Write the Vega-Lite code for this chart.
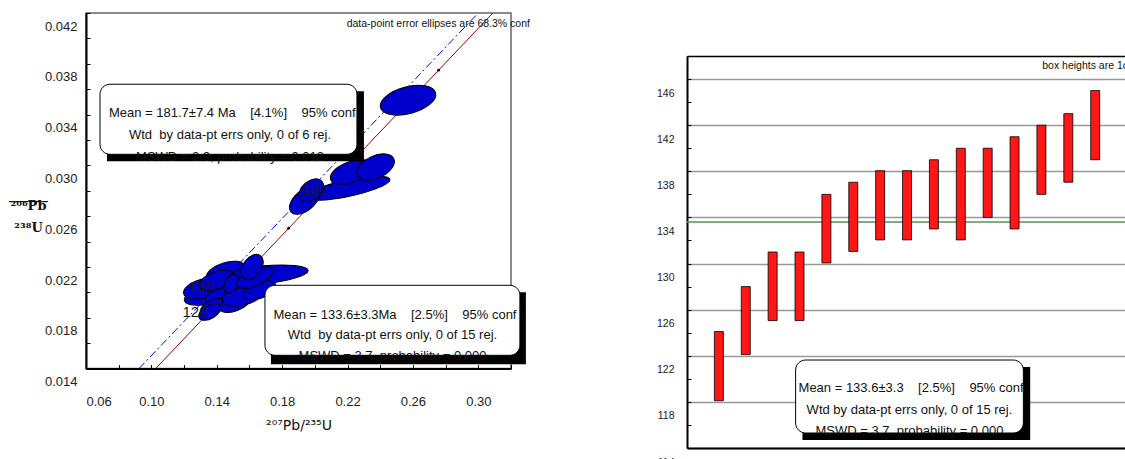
{
  "$schema": "https://vega.github.io/schema/vega-lite/v6.json",
  "background": "white",
  "padding": {"left": 7, "top": 10, "right": 0, "bottom": 0},
  "spacing": 125,
  "datasets": {
    "ellipses": [
      {"x": 0.2202, "y": 0.0282, "major": 0.0526, "ecc": "r20", "tilt": -12},
      {"x": 0.1938, "y": 0.02725, "major": 0.0220, "ecc": "r55", "tilt": -40},
      {"x": 0.1978, "y": 0.02804, "major": 0.0171, "ecc": "r68", "tilt": -40},
      {"x": 0.2223, "y": 0.02948, "major": 0.0269, "ecc": "r45", "tilt": -20},
      {"x": 0.2372, "y": 0.02987, "major": 0.0245, "ecc": "r55", "tilt": -25},
      {"x": 0.2570, "y": 0.03513, "major": 0.0349, "ecc": "r45", "tilt": -15},
      {"x": 0.1670, "y": 0.02135, "major": 0.0581, "ecc": "r20", "tilt": -6},
      {"x": 0.1438, "y": 0.02017, "major": 0.0489, "ecc": "r30", "tilt": -15},
      {"x": 0.1316, "y": 0.0203, "major": 0.0245, "ecc": "r45", "tilt": -15},
      {"x": 0.1454, "y": 0.0216, "major": 0.0245, "ecc": "r45", "tilt": -18},
      {"x": 0.1397, "y": 0.02095, "major": 0.0220, "ecc": "r45", "tilt": -20},
      {"x": 0.1418, "y": 0.01977, "major": 0.0183, "ecc": "r45", "tilt": -20},
      {"x": 0.1377, "y": 0.01885, "major": 0.0159, "ecc": "r55", "tilt": -25},
      {"x": 0.1357, "y": 0.01846, "major": 0.0147, "ecc": "r55", "tilt": -30},
      {"x": 0.1510, "y": 0.01912, "major": 0.0196, "ecc": "r45", "tilt": -20},
      {"x": 0.1560, "y": 0.01977, "major": 0.0257, "ecc": "r45", "tilt": -15},
      {"x": 0.1662, "y": 0.02017, "major": 0.0208, "ecc": "r45", "tilt": -20},
      {"x": 0.1540, "y": 0.02109, "major": 0.0183, "ecc": "r55", "tilt": -30},
      {"x": 0.1489, "y": 0.02069, "major": 0.0122, "ecc": "r68", "tilt": -60},
      {"x": 0.1632, "y": 0.02121, "major": 0.0232, "ecc": "r45", "tilt": -25},
      {"x": 0.1617, "y": 0.0220, "major": 0.0171, "ecc": "r68", "tilt": -55}
    ],
    "curves": [
      {"curve": "concordia", "x": 0.1026, "y": 0.014},
      {"curve": "concordia", "x": 0.3089, "y": 0.042},
      {"curve": "model", "x": 0.0924, "y": 0.014},
      {"curve": "model", "x": 0.2985, "y": 0.0418}
    ],
    "agemarks": [
      {"x": 0.184, "y": 0.02505},
      {"x": 0.2757, "y": 0.0375}
    ],
    "agelabels": [
      {"x": 0.1267, "y": 0.01843, "label": "120"},
      {"x": 0.1300, "y": 0.0204, "label": "130"},
      {"x": 0.1995, "y": 0.02804, "label": "180"}
    ],
    "boxesL": [
      {"kind": "shadow", "x": 0.07284, "x2": 0.23003, "y": 0.035838, "y2": 0.030323},
      {"kind": "box", "x": 0.06856, "x2": 0.22575, "y": 0.03639, "y2": 0.030874},
      {"kind": "shadow", "x": 0.17315, "x2": 0.32911, "y": 0.02001, "y2": 0.01434},
      {"kind": "box", "x": 0.16948, "x2": 0.32544, "y": 0.02056, "y2": 0.015047}
    ],
    "notesL": [
      {"x": 0.1495, "y": 0.0341, "label": "Mean = 181.7±7.4 Ma \u00a0 \u00a0[4.1%] \u00a0 \u00a095% conf"},
      {"x": 0.1481, "y": 0.03237, "label": "Wtd \u00a0by data-pt errs only, 0 of 6 rej."},
      {"x": 0.1481, "y": 0.03064, "label": "MSWD = 2.9, probability = 0.012"},
      {"x": 0.2490, "y": 0.0182, "label": "Mean = 133.6±3.3Ma \u00a0 \u00a0[2.5%] \u00a0 \u00a095% conf"},
      {"x": 0.2475, "y": 0.01663, "label": "Wtd \u00a0by data-pt errs only, 0 of 15 rej."},
      {"x": 0.2475, "y": 0.01497, "label": "MSWD = 3.7, probability = 0.000"}
    ],
    "captionL": [
      {"x": 0.3316, "y": 0.0411, "label": "data-point error ellipses are 68.3% conf"}
    ],
    "ages": [
      {"idx": 1, "lo": 118.1, "hi": 124.1},
      {"idx": 2, "lo": 122.1, "hi": 128.0},
      {"idx": 3, "lo": 125.05, "hi": 131.0},
      {"idx": 4, "lo": 125.05, "hi": 131.0},
      {"idx": 5, "lo": 130.05, "hi": 136.0},
      {"idx": 6, "lo": 131.05, "hi": 137.05},
      {"idx": 7, "lo": 132.05, "hi": 138.05},
      {"idx": 8, "lo": 132.05, "hi": 138.05},
      {"idx": 9, "lo": 133.0, "hi": 139.0},
      {"idx": 10, "lo": 132.05, "hi": 140.0},
      {"idx": 11, "lo": 134.0, "hi": 140.0},
      {"idx": 12, "lo": 133.0, "hi": 141.0},
      {"idx": 13, "lo": 136.0, "hi": 142.0},
      {"idx": 14, "lo": 137.05, "hi": 143.0},
      {"idx": 15, "lo": 139.0, "hi": 145.0}
    ],
    "meanR": [{"mean": 133.6}],
    "boxesR": [
      {"kind": "shadow", "x": 4.109, "x2": 12.582, "y": 121.03, "y2": 114.69},
      {"kind": "box", "x": 3.855, "x2": 12.327, "y": 121.63, "y2": 115.30}
    ],
    "notesR": [
      {"x": 8.15, "y": 119.2, "label": "Mean = 133.6±3.3 \u00a0 \u00a0[2.5%] \u00a0 \u00a095% conf"},
      {"x": 8.09, "y": 117.3, "label": "Wtd by data-pt errs only, 0 of 15 rej."},
      {"x": 8.09, "y": 115.47, "label": "MSWD = 3.7, probability = 0.000"}
    ],
    "captionR": [
      {"x": 13.03, "y": 147.13, "label": "box heights are 1σ"}
    ]
  },
  "hconcat": [
    {
      "width": 425,
      "height": 355.6,
      "view": {"stroke": "#666", "strokeWidth": 1.5},
      "encoding": {
        "x": {
          "field": "x",
          "type": "quantitative",
          "scale": {"domain": [0.06, 0.32], "nice": false, "zero": false},
          "axis": {
            "values": [0.06, 0.08, 0.1, 0.12, 0.14, 0.16, 0.18, 0.2, 0.22, 0.24, 0.26, 0.28, 0.3, 0.32],
            "labelExpr": "round(datum.value * 100) % 4 == 2 ? format(datum.value, '.2f') : ''",
            "grid": false,
            "domainColor": "black",
            "domainWidth": 2,
            "tickColor": "black",
            "tickSize": -4,
            "labelPadding": 31,
            "labelFontSize": 13,
            "labelColor": "#222",
            "title": "²⁰⁷Pb/²³⁵U",
            "titleFont": "DejaVu Sans",
            "titleFontSize": 14,
            "titleFontWeight": "normal",
            "titleColor": "#111",
            "titlePadding": 10
          }
        },
        "y": {
          "field": "y",
          "type": "quantitative",
          "scale": {"domain": [0.014, 0.042], "nice": false, "zero": false},
          "axis": {
            "values": [0.014, 0.016, 0.018, 0.02, 0.022, 0.024, 0.026, 0.028, 0.03, 0.032, 0.034, 0.036, 0.038, 0.04, 0.042],
            "labelExpr": "round(datum.value * 1000) % 4 == 2 ? format(datum.value, '.3f') : ''",
            "grid": false,
            "domainColor": "black",
            "domainWidth": 2,
            "tickColor": "black",
            "tickSize": -4,
            "labelPadding": 13,
            "labelOffset": 13,
            "labelFontSize": 13,
            "labelColor": "#222",
            "title": ["______", "²⁰⁶Pb", "\u2800", "²³⁸U"],
            "titleFont": "DejaVu Serif",
            "titleFontWeight": "bold",
            "titleFontSize": 13,
            "titleColor": "#111",
            "titleAngle": 0,
            "titleAlign": "center",
            "titleBaseline": "alphabetic",
            "titleLineHeight": 11,
            "titleX": -58,
            "titleY": 185
          }
        }
      },
      "layer": [
        {
          "data": {"name": "curves"},
          "transform": [{"filter": "datum.curve == 'model'"}],
          "mark": {"type": "line", "color": "#0000ff", "strokeWidth": 1, "strokeDash": [8, 3, 2, 3]}
        },
        {
          "data": {"name": "curves"},
          "transform": [{"filter": "datum.curve == 'concordia'"}],
          "mark": {"type": "line", "color": "#a00000", "strokeWidth": 1}
        },
        {
          "data": {"name": "agemarks"},
          "mark": {"type": "point", "filled": true, "color": "black", "size": 8, "opacity": 1}
        },
        {
          "data": {"name": "ellipses"},
          "mark": {"type": "point", "filled": true, "color": "#0000cc", "stroke": "black", "strokeWidth": 1, "opacity": 1},
          "encoding": {
            "size": {
              "field": "major",
              "type": "quantitative",
              "scale": {"type": "pow", "exponent": 2, "domain": [0, 0.1], "range": [0, 26732]},
              "legend": null
            },
            "angle": {
              "field": "tilt",
              "type": "quantitative",
              "scale": {"domain": [-90, 90], "range": [-90, 90]},
              "legend": null
            },
            "shape": {
              "field": "ecc",
              "type": "nominal",
              "scale": {
                "domain": ["r20", "r30", "r45", "r55", "r68"],
                "range": [
                  "M-1,0C-1,-0.105,-0.552,-0.19,0,-0.19C0.552,-0.19,1,-0.105,1,0C1,0.105,0.552,0.19,0,0.19C-0.552,0.19,-1,0.105,-1,0Z",
                  "M-1,0C-1,-0.155,-0.552,-0.28,0,-0.28C0.552,-0.28,1,-0.155,1,0C1,0.155,0.552,0.28,0,0.28C-0.552,0.28,-1,0.155,-1,0Z",
                  "M-1,0C-1,-0.26,-0.552,-0.47,0,-0.47C0.552,-0.47,1,-0.26,1,0C1,0.26,0.552,0.47,0,0.47C-0.552,0.47,-1,0.26,-1,0Z",
                  "M-1,0C-1,-0.309,-0.552,-0.56,0,-0.56C0.552,-0.56,1,-0.309,1,0C1,0.309,0.552,0.56,0,0.56C-0.552,0.56,-1,0.309,-1,0Z",
                  "M-1,0C-1,-0.365,-0.552,-0.66,0,-0.66C0.552,-0.66,1,-0.365,1,0C1,0.365,0.552,0.66,0,0.66C-0.552,0.66,-1,0.365,-1,0Z"
                ]
              },
              "legend": null
            }
          }
        },
        {
          "data": {"name": "agelabels"},
          "mark": {"type": "text", "fontSize": 15, "color": "#1a1a1a", "align": "center", "baseline": "middle"},
          "encoding": {"text": {"field": "label"}}
        },
        {
          "data": {"name": "captionL"},
          "mark": {"type": "text", "fontSize": 10.5, "color": "#111", "align": "right", "baseline": "middle"},
          "encoding": {"text": {"field": "label"}}
        },
        {
          "data": {"name": "boxesL"},
          "transform": [{"filter": "datum.kind == 'shadow'"}],
          "mark": {"type": "rect", "color": "black", "opacity": 1},
          "encoding": {"x2": {"field": "x2"}, "y2": {"field": "y2"}}
        },
        {
          "data": {"name": "boxesL"},
          "transform": [{"filter": "datum.kind == 'box'"}],
          "mark": {"type": "rect", "fill": "white", "stroke": "black", "strokeWidth": 1, "cornerRadius": 10, "opacity": 1},
          "encoding": {"x2": {"field": "x2"}, "y2": {"field": "y2"}}
        },
        {
          "data": {"name": "notesL"},
          "mark": {"type": "text", "fontSize": 13, "color": "#111", "align": "center", "baseline": "middle"},
          "encoding": {"text": {"field": "label"}}
        }
      ]
    },
    {
      "spacing": 0,
      "vconcat": [
        {
          "width": 439,
          "height": 42,
          "view": {"stroke": null},
          "data": {"values": [{}]},
          "mark": {"type": "text", "text": ""}
        },
        {
          "width": 439,
          "height": 392,
          "view": {"stroke": null},
          "resolve": {"axis": {"x": "independent", "y": "independent"}},
          "layer": [
            {
              "data": {"name": "meanR"},
              "mark": {"type": "rule", "color": "#4c9a4c", "strokeWidth": 1.5},
              "encoding": {
                "y": {"field": "mean", "type": "quantitative", "axis": null}
              }
            },
            {
              "data": {"name": "boxesR"},
              "transform": [{"filter": "datum.kind == 'shadow'"}],
              "mark": {"type": "rect", "color": "black", "opacity": 1},
              "encoding": {
                "x": {"field": "x", "type": "quantitative", "axis": null},
                "x2": {"field": "x2"},
                "y": {"field": "y", "type": "quantitative", "axis": null},
                "y2": {"field": "y2"}
              }
            },
            {
              "data": {"name": "boxesR"},
              "transform": [{"filter": "datum.kind == 'box'"}],
              "mark": {"type": "rect", "fill": "white", "stroke": "black", "strokeWidth": 1, "cornerRadius": 10, "opacity": 1},
              "encoding": {
                "x": {"field": "x", "type": "quantitative", "axis": null},
                "x2": {"field": "x2"},
                "y": {"field": "y", "type": "quantitative", "axis": null},
                "y2": {"field": "y2"}
              }
            },
            {
              "data": {"name": "notesR"},
              "mark": {"type": "text", "fontSize": 13, "color": "#111", "align": "center", "baseline": "middle"},
              "encoding": {
                "x": {"field": "x", "type": "quantitative", "axis": null},
                "y": {"field": "y", "type": "quantitative", "axis": null},
                "text": {"field": "label"}
              }
            },
            {
              "data": {"name": "captionR"},
              "mark": {"type": "text", "fontSize": 10.5, "color": "#111", "align": "left", "baseline": "middle", "clip": true},
              "encoding": {
                "x": {
                  "field": "x",
                  "type": "quantitative",
                  "axis": {"orient": "top", "labels": false, "ticks": false, "grid": false, "title": null, "domainColor": "black", "domainWidth": 1.5, "minExtent": 0, "maxExtent": 0}
                },
                "y": {"field": "y", "type": "quantitative", "axis": null},
                "text": {"field": "label"}
              }
            },
            {
              "data": {"name": "ages"},
              "mark": {"type": "bar", "width": 9, "color": "#ff1616", "stroke": "black", "strokeWidth": 0.8},
              "encoding": {
                "x": {
                  "field": "idx",
                  "type": "quantitative",
                  "scale": {"domain": [0, 15.96], "nice": false, "zero": false},
                  "axis": {"orient": "bottom", "labels": false, "ticks": false, "grid": false, "title": null, "domainColor": "black", "domainWidth": 2}
                },
                "y": {
                  "field": "lo",
                  "type": "quantitative",
                  "scale": {"domain": [114, 148], "nice": false, "zero": false},
                  "axis": {
                    "orient": "left",
                    "values": [114, 116, 118, 120, 122, 124, 126, 128, 130, 132, 134, 136, 138, 140, 142, 144, 146, 148],
                    "labelExpr": "datum.value % 4 == 2 ? datum.label : ''",
                    "grid": true,
                    "gridColor": "#999",
                    "gridWidth": 1.5,
                    "gridOpacity": {"condition": {"test": "datum.value % 4 == 2", "value": 1}, "value": 0},
                    "domainColor": "black",
                    "domainWidth": 2,
                    "tickColor": "black",
                    "tickSize": -4,
                    "labelPadding": 17,
                    "labelOffset": 14,
                    "labelFontSize": 10.5,
                    "labelColor": "#222",
                    "title": null
                  }
                },
                "y2": {"field": "hi"}
              }
            }
          ]
        }
      ]
    }
  ],
  "config": {
    "font": "Liberation Sans",
    "axis": {"labelFont": "Liberation Sans", "titleFont": "Liberation Sans"},
    "text": {"font": "Liberation Sans"}
  }
}
